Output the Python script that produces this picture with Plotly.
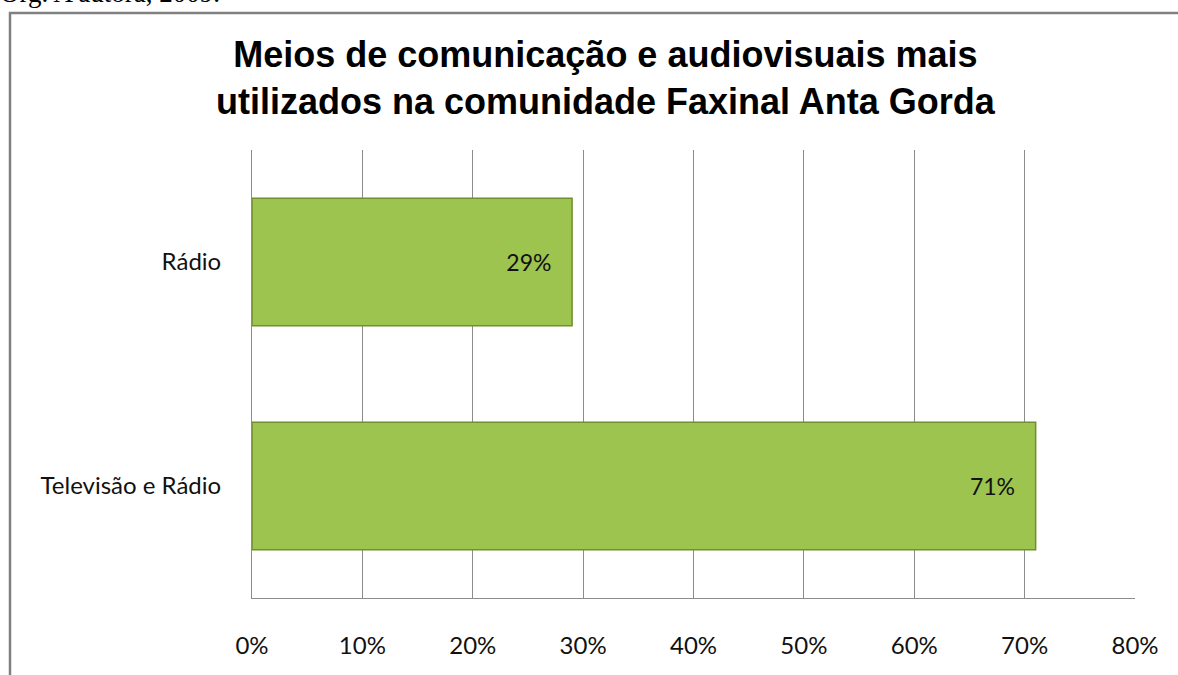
import plotly.graph_objects as go

# Survey results: share of households by media used
categorias = ["Televisão e Rádio", "Rádio"]
valores = [0.71, 0.29]
rotulos = ["71%", "29%"]
ticks_x = [0, 0.1, 0.2, 0.3, 0.4, 0.5, 0.6, 0.7, 0.8]
ticks_txt = ["0%", "10%", "20%", "30%", "40%", "50%", "60%", "70%", "80%"]

W, H = 1178, 675
L, R, T, B = 252, 1135, 150, 598
pw, ph = R - L, B - T

FONTE = "Lato, Open Sans, sans-serif"


def px_x(x):
    return (x - L) / pw


def px_y(y):
    return (B - y) / ph


fig = go.Figure()
fig.add_trace(go.Bar(
    y=categorias,
    x=valores,
    orientation="h",
    width=0.57,
    marker=dict(color="#9cc44f", line=dict(color="#6f8f30", width=1.5)),
    text=rotulos,
    texttemplate="%{text}&nbsp;&nbsp;&nbsp;",
    textposition="inside",
    insidetextanchor="end",
    textfont=dict(family=FONTE, size=23, color="#111111"),
    hoverinfo="skip",
    cliponaxis=False,
))

fig.update_layout(
    width=W,
    height=H,
    margin=dict(l=L, r=W - R, t=T, b=H - B),
    paper_bgcolor="white",
    plot_bgcolor="white",
    showlegend=False,
    xaxis=dict(
        range=[0, 0.8],
        tickvals=ticks_x,
        ticktext=ticks_txt,
        showgrid=True,
        gridcolor="#8c8c8c",
        gridwidth=1,
        showline=True,
        linecolor="#8c8c8c",
        linewidth=1,
        zeroline=False,
        ticks="",
        ticklabelstandoff=26,
        tickfont=dict(family=FONTE, size=24, color="#111111"),
        fixedrange=True,
    ),
    yaxis=dict(
        categoryorder="array",
        categoryarray=categorias,
        showgrid=False,
        showline=True,
        linecolor="#8c8c8c",
        linewidth=1,
        ticks="",
        ticklabelstandoff=25,
        tickfont=dict(family=FONTE, size=24, color="#111111"),
        fixedrange=True,
    ),
    shapes=[
        dict(
            type="rect", xref="paper", yref="paper",
            x0=px_x(10), x1=px_x(1185), y0=px_y(690), y1=px_y(13),
            line=dict(color="#808080", width=2.5),
            fillcolor="rgba(0,0,0,0)", layer="below",
        ),
    ],
    annotations=[
        dict(
            text="<b>Meios de comunicação e audiovisuais mais<br>utilizados na comunidade Faxinal Anta Gorda</b>",
            xref="paper", yref="paper",
            x=px_x(606), y=px_y(78),
            xanchor="center", yanchor="middle",
            showarrow=False,
            font=dict(family="Liberation Sans, Arial, sans-serif", size=36, color="#000000"),
            align="center",
        ),
        dict(
            text="Org. A autora, 2009.",
            xref="paper", yref="paper",
            x=px_x(-2), y=px_y(-7),
            xanchor="left", yanchor="middle",
            showarrow=False,
            font=dict(family="Liberation Serif, Times New Roman, serif", size=27, color="#000000"),
        ),
    ],
)

fig.write_html("out.html")
